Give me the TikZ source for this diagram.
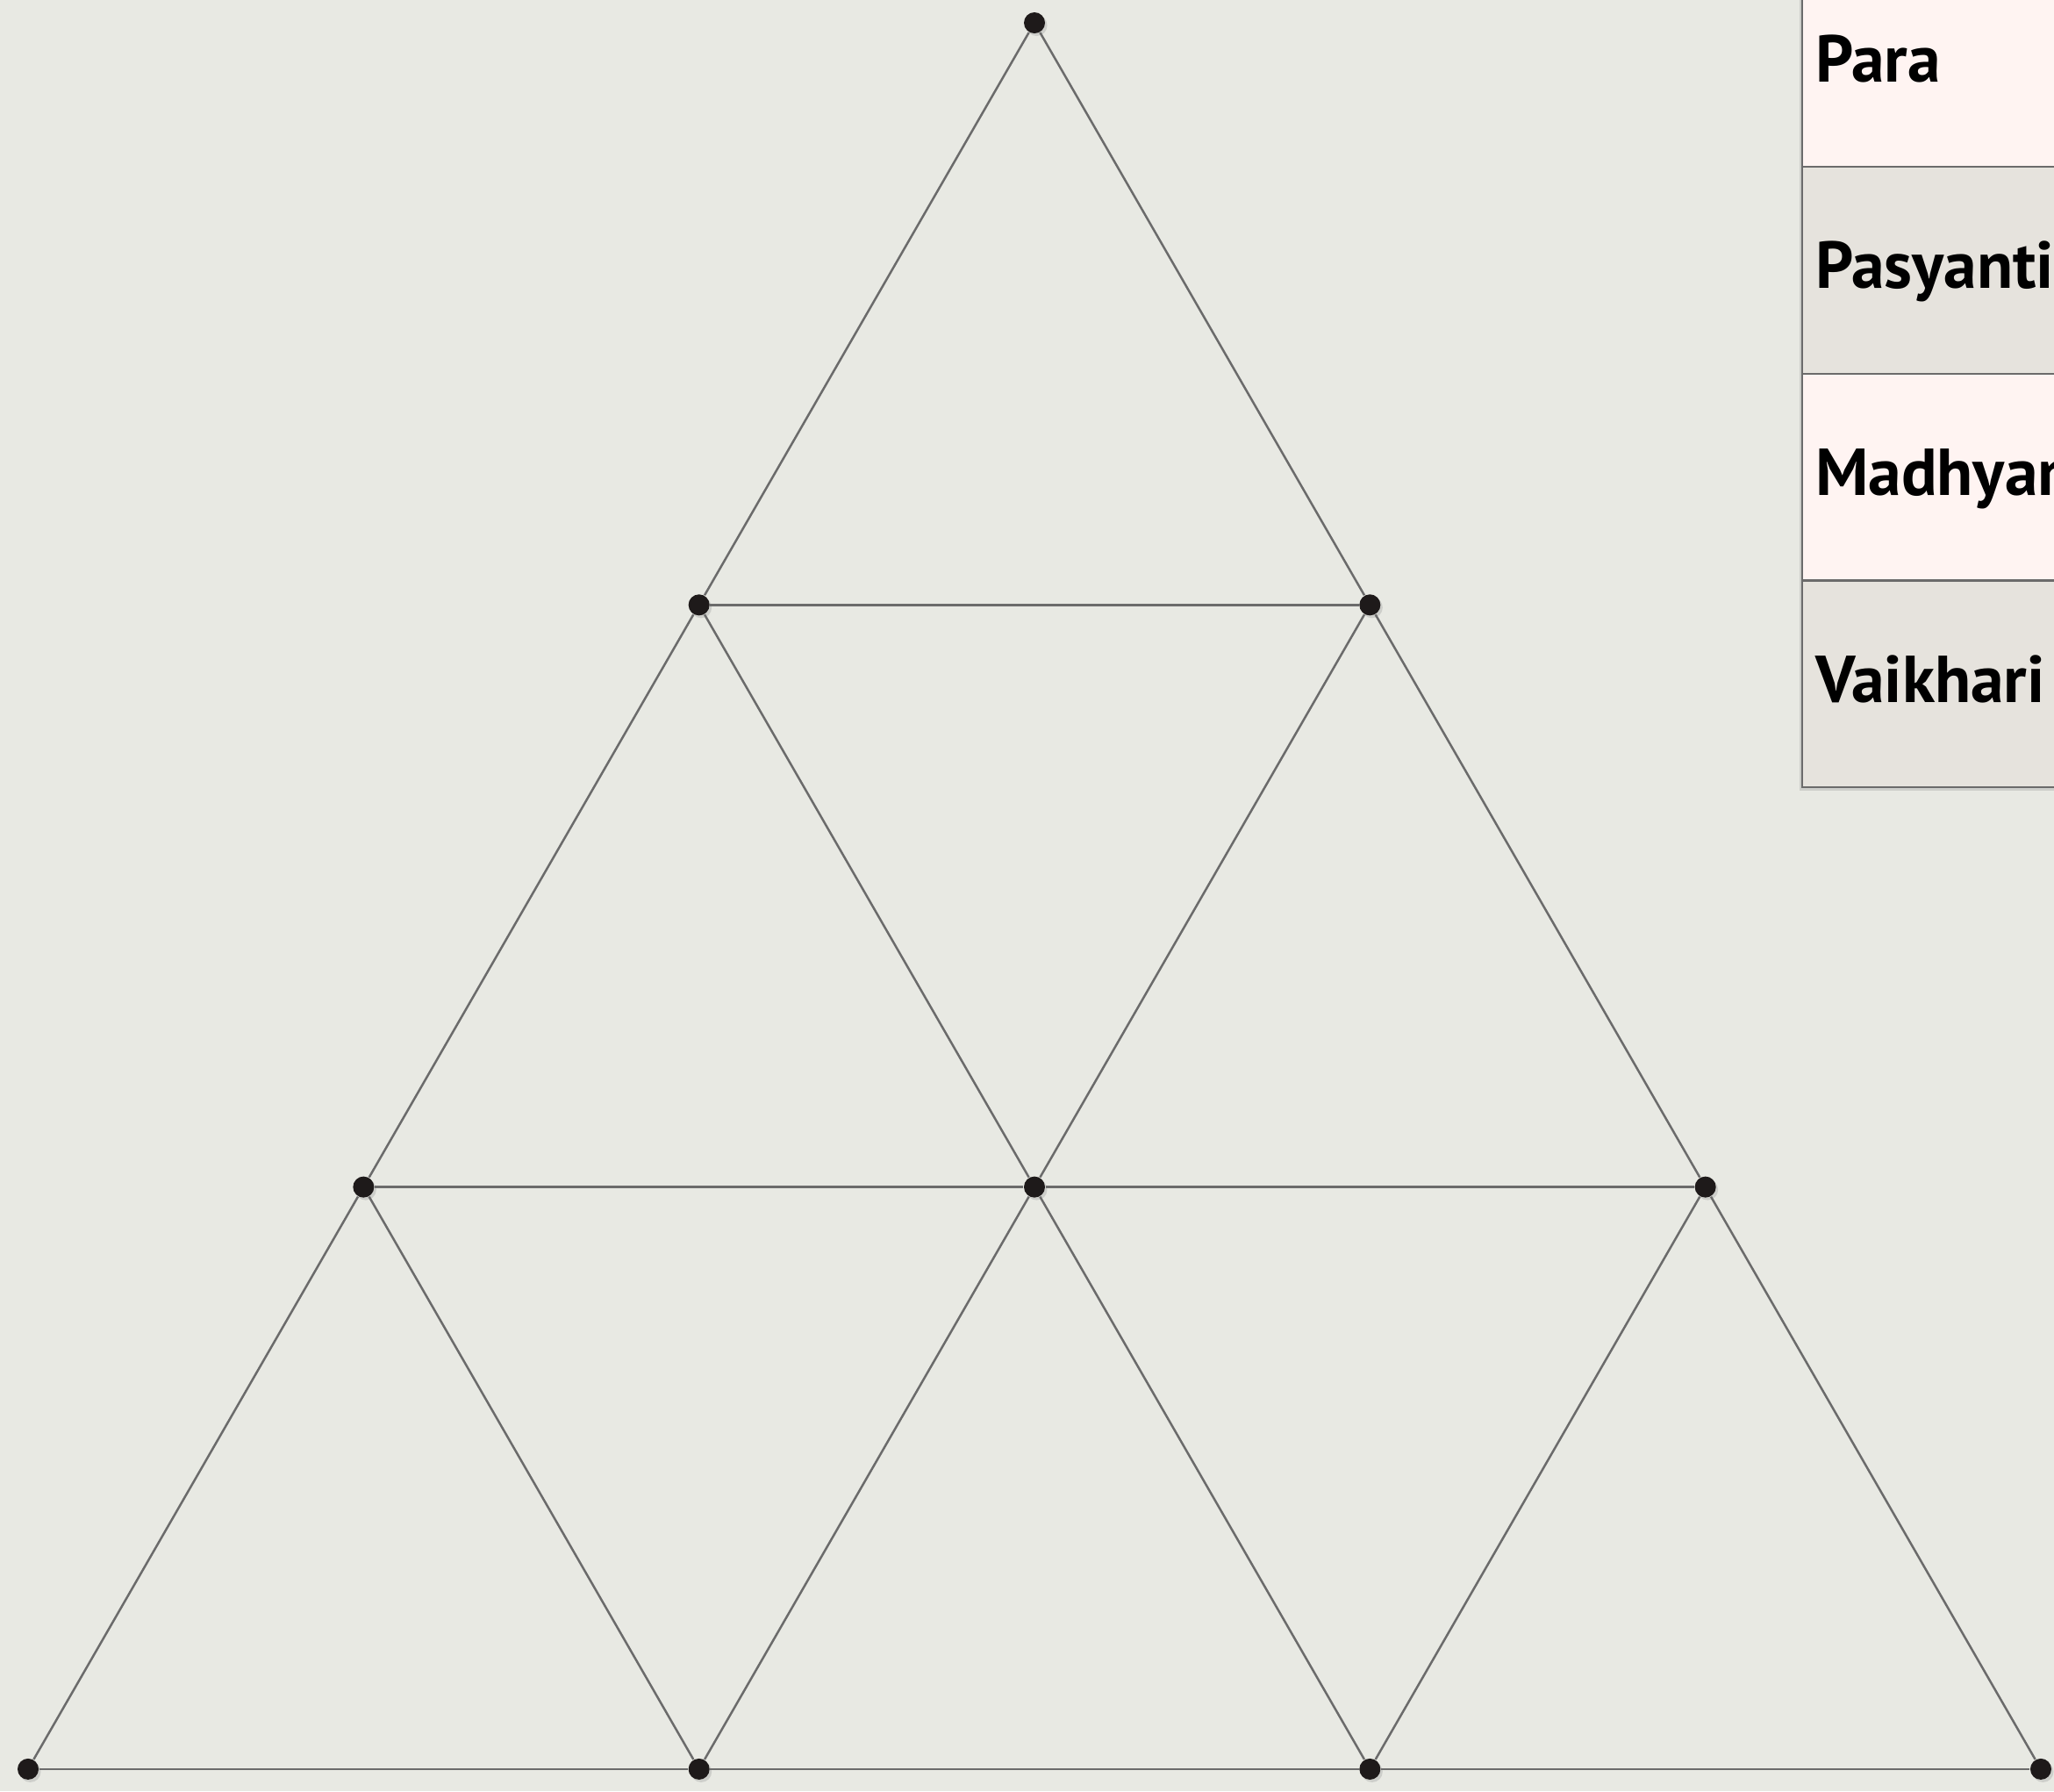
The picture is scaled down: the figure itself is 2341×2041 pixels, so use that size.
\documentclass[tikz,border=0pt]{standalone}
\usepackage{fontspec}
\setsansfont{PT Sans}
\usepackage{xcolor}
\usepackage{tikz}
\usetikzlibrary{positioning, shadows}
\definecolor{paper}{HTML}{E8E9E3}
\definecolor{edgegray}{HTML}{6B6B6B}
\definecolor{rowlight}{HTML}{FFF4F2}
\definecolor{rowdark}{HTML}{E6E3DD}
\definecolor{dotblack}{HTML}{1E1A1A}

\begin{document}
\begin{tikzpicture}[x=0.01cm, y=-0.01cm,
    vertex/.style={circle, fill=dotblack, inner sep=0pt, minimum size=0.24cm,
        drop shadow={shadow xshift=0.025cm, shadow yshift=-0.03cm, opacity=0.25}},
    edge/.style={draw=edgegray, line width=0.025cm},
    level/.style={draw=edgegray, line width=0.025cm, rectangle, outer sep=0pt,
        minimum height=2.355cm, text width=4cm, inner xsep=0.15cm,
        text height=0.53cm, text depth=0.11cm, align=left,
        font=\sffamily\bfseries\fontsize{21.5}{26}\selectfont,
        drop shadow={shadow xshift=-0.03cm, shadow yshift=-0.04cm, opacity=0.25}},
    node distance=0pt]
    \clip (0,0) rectangle (2341,2041);
    \fill[paper] (0,0) rectangle (2341,2041);

    % triangle grid
    \foreach \row in {0,...,3}
        \foreach \col in {0,...,\row}
            \node[vertex] (v\row\col) at ({1179+(2*\col-\row)*382.33}, {26+\row*663.3}) {};
    \foreach \row in {1,2,3} {
        \foreach \col in {1,...,\row} {
            \pgfmathtruncatemacro\prevcol{\col-1}
            \draw[edge] (v\row\prevcol) -- (v\row\col);
        }
    }
    \foreach \row in {0,1,2} {
        \pgfmathtruncatemacro\nextrow{\row+1}
        \foreach \col in {0,...,\row} {
            \pgfmathtruncatemacro\nextcol{\col+1}
            \draw[edge] (v\row\col) -- (v\nextrow\col) (v\row\col) -- (v\nextrow\nextcol);
        }
    }

    % levels
    \node[level, fill=rowlight, anchor=north west] (para) at (2054,-45.5) {Para};
    \node[level, fill=rowdark, below=of para] (pasyanti) {Pasyanti};
    \node[level, fill=rowlight, below=of pasyanti] (madhyama) {Madhyama};
    \node[level, fill=rowdark, below=of madhyama] (vaikhari) {Vaikhari};
\end{tikzpicture}
\end{document}
